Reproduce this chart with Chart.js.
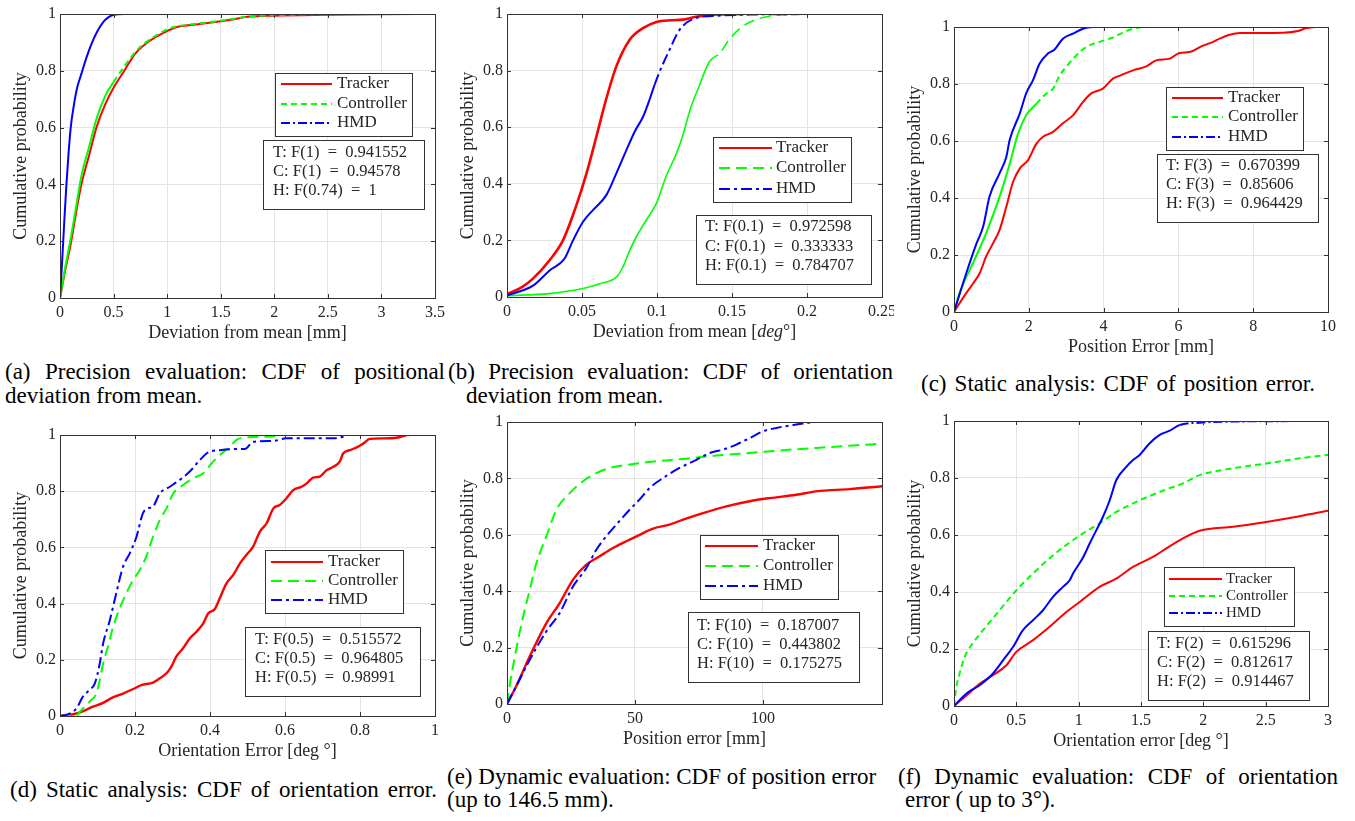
<!DOCTYPE html>
<html>
<head>
<meta charset="utf-8">
<script src="https://cdn.jsdelivr.net/npm/chart.js@4.4.1/dist/chart.umd.min.js"></script>
<style>
  body { margin: 0; background: #fff; width: 1355px; height: 821px; position: relative; overflow: hidden;
         font-family: "Liberation Serif", "Times New Roman", serif; }
  canvas { position: absolute; }
  .cap { position: absolute; font-size: 23px; line-height: 24px; white-space: nowrap; color: #000; }
  .just { white-space: normal; text-align: justify; text-align-last: justify; }
  .warm { position: absolute; left: -9999px; top: 0; font-size: 16px; }
</style>
</head>
<body>
<span class="warm">Tracker 0.5 <i>deg</i></span>

<div class="cap just" style="left:5px;top:360px;width:440px">(a) Precision evaluation: CDF of positional</div>
<div class="cap" style="left:5px;top:384px">deviation from mean.</div>
<div class="cap just" style="left:448px;top:360px;width:445px">(b) Precision evaluation: CDF of orientation</div>
<div class="cap" style="left:466px;top:384px">deviation from mean.</div>
<div class="cap just" style="left:921px;top:372px;width:394px">(c) Static analysis: CDF of position error.</div>
<div class="cap just" style="left:10px;top:778px;width:427px">(d) Static analysis: CDF of orientation error.</div>
<div class="cap" style="left:447px;top:765px">(e) Dynamic evaluation: CDF of position error</div>
<div class="cap" style="left:447px;top:788px">(up to 146.5 mm).</div>
<div class="cap just" style="left:898px;top:765px;width:440px">(f) Dynamic evaluation: CDF of orientation</div>
<div class="cap" style="left:905px;top:788px">error ( up to 3°).</div>

<script>
const seriesNames = ["Tracker", "Controller", "HMD"];
const yTicks = [0, 0.2, 0.4, 0.6, 0.8, 1];

// (a) positional deviation from mean [mm]
const aXTicks = [0, 0.5, 1, 1.5, 2, 2.5, 3, 3.5];
const aTrkX = [0, 0.05, 0.1, 0.15, 0.2, 0.27, 0.34, 0.42, 0.5, 0.6, 0.7, 0.8, 0.9, 1.0, 1.1, 1.25, 1.45, 1.6, 1.75, 2.0, 2.5, 3.0, 3.45];
const aTrkY = [0, 0.1, 0.19, 0.3, 0.4, 0.5, 0.6, 0.68, 0.74, 0.8, 0.86, 0.895, 0.92, 0.94, 0.955, 0.962, 0.972, 0.98, 0.99, 0.994, 0.997, 0.999, 1];
const aCtlX = [0, 0.05, 0.1, 0.15, 0.2, 0.27, 0.34, 0.42, 0.5, 0.6, 0.7, 0.8, 0.9, 1.0, 1.1, 1.25, 1.45, 1.6, 1.75, 2.0, 2.5];
const aCtlY = [0, 0.11, 0.21, 0.32, 0.43, 0.53, 0.63, 0.71, 0.76, 0.815, 0.865, 0.9, 0.925, 0.946, 0.957, 0.965, 0.974, 0.982, 0.99, 0.996, 1];
const aHmdX = [0, 0.02, 0.04, 0.06, 0.08, 0.1, 0.13, 0.16, 0.2, 0.25, 0.3, 0.35, 0.4, 0.45, 0.5, 0.6, 0.74];
const aHmdY = [0, 0.13, 0.27, 0.4, 0.51, 0.6, 0.68, 0.74, 0.79, 0.85, 0.9, 0.94, 0.97, 0.988, 0.997, 1, 1];
const aStats = ["T: F(1) = 0.941552", "C: F(1) = 0.94578", "H: F(0.74) = 1"];

// (b) orientation deviation from mean [deg]
const bXTicks = [0, 0.05, 0.1, 0.15, 0.2, 0.25];
const bTrkX = [0, 0.01, 0.0173, 0.0284, 0.0373, 0.046, 0.053, 0.0596, 0.066, 0.0729, 0.0818, 0.0907, 0.0996, 0.11, 0.117, 0.126, 0.14, 0.158];
const bTrkY = [0.01, 0.035, 0.065, 0.13, 0.2, 0.32, 0.437, 0.567, 0.697, 0.815, 0.909, 0.95, 0.972, 0.978, 0.98, 0.99, 0.998, 1];
const bCtlX = [0, 0.028, 0.0507, 0.0618, 0.0729, 0.0773, 0.0818, 0.0862, 0.0929, 0.0996, 0.106, 0.113, 0.117, 0.122, 0.128, 0.135, 0.142, 0.148, 0.157, 0.166, 0.175, 0.184, 0.204];
const bCtlY = [0.005, 0.012, 0.03, 0.047, 0.07, 0.106, 0.165, 0.212, 0.272, 0.331, 0.425, 0.508, 0.567, 0.661, 0.744, 0.832, 0.862, 0.909, 0.956, 0.98, 0.992, 0.997, 1];
const bHmdX = [0, 0.0173, 0.0284, 0.0384, 0.044, 0.0507, 0.0573, 0.0662, 0.0729, 0.0796, 0.0851, 0.0907, 0.095, 0.0984, 0.1018, 0.1084, 0.115, 0.126, 0.14, 0.162, 0.204];
const bHmdY = [0.005, 0.04, 0.094, 0.136, 0.2, 0.266, 0.307, 0.36, 0.437, 0.519, 0.584, 0.637, 0.697, 0.75, 0.797, 0.874, 0.944, 0.986, 0.994, 0.998, 1];
const bStats = ["T: F(0.1) = 0.972598", "C: F(0.1) = 0.333333", "H: F(0.1) = 0.784707"];

// (c) static position error [mm]
const cXTicks = [0, 2, 4, 6, 8, 10];
const cTrkX = [0, 0.33, 0.51, 0.69, 0.86, 1.04, 1.22, 1.4, 1.58, 1.76, 1.98, 2.2, 2.38, 2.65, 2.91, 3.18, 3.45, 3.67, 3.98, 4.25, 4.47, 4.79, 5.14, 5.41, 5.77, 6.03, 6.3, 6.61, 6.93, 7.1, 7.37, 7.64, 8.17, 8.8, 9.2, 9.42, 9.64];
const cTrkY = [0, 0.067, 0.1, 0.137, 0.195, 0.24, 0.288, 0.37, 0.457, 0.504, 0.533, 0.59, 0.615, 0.632, 0.662, 0.69, 0.737, 0.767, 0.784, 0.819, 0.831, 0.848, 0.862, 0.883, 0.889, 0.909, 0.912, 0.932, 0.948, 0.959, 0.973, 0.979, 0.979, 0.98, 0.986, 0.996, 1];
const cCtlX = [0, 0.15, 0.51, 0.86, 1.22, 1.49, 1.71, 1.93, 2.2, 2.47, 2.65, 2.83, 3.0, 3.27, 3.54, 3.9, 4.25, 4.61, 4.79, 5.03];
const cCtlY = [0, 0.067, 0.172, 0.277, 0.405, 0.52, 0.625, 0.69, 0.73, 0.767, 0.784, 0.831, 0.86, 0.9, 0.93, 0.948, 0.963, 0.986, 0.994, 1];
const cHmdX = [0, 0.33, 0.6, 0.78, 0.95, 1.22, 1.4, 1.49, 1.76, 1.93, 2.11, 2.29, 2.51, 2.69, 2.91, 3.18, 3.45, 3.63, 3.83];
const cHmdY = [0, 0.137, 0.24, 0.3, 0.405, 0.487, 0.545, 0.604, 0.697, 0.767, 0.813, 0.872, 0.907, 0.921, 0.959, 0.977, 0.994, 0.999, 1];
const cStats = ["T: F(3) = 0.670399", "C: F(3) = 0.85606", "H: F(3) = 0.964429"];

// (d) static orientation error [deg]
const dXTicks = [0, 0.2, 0.4, 0.6, 0.8, 1];
const dTrkX = [0, 0.044, 0.088, 0.115, 0.141, 0.168, 0.195, 0.217, 0.248, 0.266, 0.284, 0.297, 0.31, 0.328, 0.346, 0.364, 0.382, 0.395, 0.413, 0.426, 0.444, 0.462, 0.48, 0.497, 0.515, 0.533, 0.551, 0.569, 0.586, 0.604, 0.622, 0.644, 0.658, 0.675, 0.693, 0.711, 0.729, 0.746, 0.755, 0.773, 0.791, 0.809, 0.826, 0.862, 0.897, 0.924];
const dTrkY = [0, 0.009, 0.033, 0.047, 0.066, 0.08, 0.096, 0.11, 0.119, 0.134, 0.152, 0.176, 0.211, 0.241, 0.276, 0.3, 0.33, 0.365, 0.381, 0.419, 0.472, 0.502, 0.543, 0.573, 0.603, 0.656, 0.686, 0.739, 0.751, 0.775, 0.804, 0.816, 0.828, 0.848, 0.852, 0.875, 0.887, 0.905, 0.934, 0.946, 0.956, 0.97, 0.986, 0.988, 0.99, 1];
const dCtlX = [0, 0.04, 0.061, 0.079, 0.097, 0.106, 0.115, 0.128, 0.141, 0.159, 0.177, 0.195, 0.213, 0.23, 0.248, 0.266, 0.284, 0.302, 0.328, 0.355, 0.382, 0.408, 0.426, 0.453, 0.47, 0.497, 0.551, 0.6];
const dCtlY = [0, 0, 0.027, 0.051, 0.081, 0.128, 0.187, 0.247, 0.314, 0.383, 0.437, 0.484, 0.52, 0.567, 0.638, 0.697, 0.739, 0.792, 0.822, 0.846, 0.864, 0.905, 0.929, 0.958, 0.982, 0.992, 0.994, 1];
const dHmdX = [0, 0.017, 0.044, 0.061, 0.079, 0.093, 0.106, 0.115, 0.133, 0.15, 0.168, 0.186, 0.204, 0.221, 0.235, 0.248, 0.266, 0.293, 0.319, 0.346, 0.373, 0.395, 0.426, 0.462, 0.493, 0.515, 0.569, 0.604, 0.729, 0.755, 0.768];
const dHmdY = [0, 0.004, 0.027, 0.069, 0.093, 0.116, 0.187, 0.258, 0.342, 0.437, 0.531, 0.579, 0.638, 0.721, 0.739, 0.745, 0.792, 0.816, 0.84, 0.87, 0.911, 0.938, 0.946, 0.95, 0.95, 0.976, 0.979, 0.988, 0.988, 0.994, 1];
const dStats = ["T: F(0.5) = 0.515572", "C: F(0.5) = 0.964805", "H: F(0.5) = 0.98991"];

// (e) dynamic position error [mm]
const eXTicks = [0, 50, 100];
const eTrkX = [0, 3.6, 8.9, 15.4, 20.6, 25.8, 31, 36.2, 41.4, 46.6, 51.8, 57, 63.5, 68.8, 76.6, 85.7, 94.8, 102.6, 113, 120.8, 133.9, 146.5];
const eTrkY = [0, 0.063, 0.169, 0.287, 0.358, 0.441, 0.494, 0.524, 0.553, 0.577, 0.6, 0.622, 0.636, 0.654, 0.677, 0.701, 0.719, 0.73, 0.742, 0.754, 0.762, 0.772];
const eCtlX = [0, 1, 3.6, 6.3, 8.9, 11.5, 15.4, 19.3, 24.5, 29.7, 34.9, 40.1, 47.9, 58.3, 68.8, 81.8, 94.8, 107.8, 120.8, 133.9, 146.5];
const eCtlY = [0, 0.063, 0.193, 0.31, 0.405, 0.5, 0.595, 0.689, 0.748, 0.79, 0.819, 0.837, 0.849, 0.861, 0.869, 0.881, 0.89, 0.9, 0.908, 0.916, 0.923];
const eHmdX = [0, 3.6, 8.9, 15.4, 20.6, 25.8, 31, 34.9, 38.8, 42.7, 47.9, 51.8, 55.7, 60.9, 67.4, 74, 79.2, 84.4, 89.6, 94.8, 100, 105.2, 113, 120.2];
const eHmdY = [0, 0.063, 0.157, 0.258, 0.323, 0.417, 0.482, 0.547, 0.595, 0.636, 0.689, 0.725, 0.766, 0.801, 0.837, 0.866, 0.89, 0.902, 0.92, 0.943, 0.967, 0.979, 0.991, 1];
const eStats = ["T: F(10) = 0.187007", "C: F(10) = 0.443802", "H: F(10) = 0.175275"];

// (f) dynamic orientation error [deg]
const fXTicks = [0, 0.5, 1, 1.5, 2, 2.5, 3];
const fTrkX = [0, 0.1, 0.206, 0.313, 0.42, 0.5, 0.634, 0.767, 0.901, 1.008, 1.168, 1.302, 1.436, 1.596, 1.703, 1.837, 1.971, 2.238, 2.505, 2.773, 3];
const fTrkY = [0, 0.037, 0.078, 0.108, 0.143, 0.19, 0.231, 0.278, 0.33, 0.365, 0.418, 0.447, 0.488, 0.523, 0.553, 0.588, 0.615, 0.629, 0.646, 0.666, 0.685];
const fCtlX = [0, 0.019, 0.045, 0.086, 0.139, 0.233, 0.366, 0.5, 0.634, 0.767, 0.901, 1.035, 1.168, 1.302, 1.436, 1.57, 1.703, 1.837, 1.971, 2.238, 2.505, 2.773, 3];
const fCtlY = [0, 0.067, 0.114, 0.172, 0.213, 0.266, 0.336, 0.406, 0.465, 0.518, 0.565, 0.606, 0.641, 0.681, 0.711, 0.737, 0.76, 0.781, 0.81, 0.834, 0.851, 0.869, 0.881];
const fHmdX = [0, 0.1, 0.206, 0.313, 0.393, 0.473, 0.553, 0.634, 0.714, 0.794, 0.874, 0.928, 0.955, 1.035, 1.088, 1.142, 1.195, 1.249, 1.302, 1.382, 1.436, 1.489, 1.57, 1.65, 1.73, 1.81, 1.971, 2.238, 3];
const fHmdY = [0, 0.044, 0.073, 0.114, 0.16, 0.207, 0.266, 0.301, 0.336, 0.383, 0.418, 0.441, 0.465, 0.521, 0.57, 0.617, 0.664, 0.722, 0.793, 0.839, 0.863, 0.881, 0.922, 0.951, 0.966, 0.986, 0.994, 0.998, 1];
const fStats = ["T: F(2) = 0.615296", "C: F(2) = 0.812617", "H: F(2) = 0.914467"];

const FAMILY = "Liberation Serif";
const FONT = "'Liberation Serif', 'Times New Roman', serif";
const TXT = "#262626";
const GRID = "#e4e4e4";
const COLORS = ["#ff0000", "#00ff00", "#0000ff"];
const SHORT = { ctl: [6, 4], hmd: [9, 3, 2, 3] };
const LONG = { ctl: [11, 6], hmd: [11, 4, 3, 4] };

function eqText(s) {
  return s.replace(" = ", "\u2002=\u2002");
}

function makeChart(c) {
  const left = c.L - 60, top = c.T - 14;
  const w = c.R - c.L + 72, h = c.B - c.T + 64;
  const cv = document.createElement("canvas");
  cv.width = w; cv.height = h;
  cv.style.left = left + "px"; cv.style.top = top + "px";
  cv.style.width = w + "px"; cv.style.height = h + "px";
  document.body.appendChild(cv);

  const datasets = c.series.map((s, i) => ({
    label: seriesNames[i],
    data: s.x.map((x, k) => ({ x: x, y: s.y[k] })),
    borderColor: COLORS[i],
    borderWidth: s.width || 2,
    borderDash: s.dash || [],
    pointRadius: 0,
    fill: false,
    order: 3 - i,
    cubicInterpolationMode: "monotone",
    segment: {
      borderDash: ctx => (s.solid && ctx.p0.parsed.x < s.solid) ? [] : undefined
    }
  }));

  const overlay = {
    id: "matlabAxes",
    afterDraw(chart) {
      const g = chart.ctx, a = chart.chartArea;
      const sx = chart.scales.x, sy = chart.scales.y;
      const X = v => v - left, Y = v => v - top;
      g.save();

      // box and inward ticks
      g.strokeStyle = "#333"; g.lineWidth = 1; g.setLineDash([]);
      g.beginPath();
      c.xTicks.forEach(v => {
        const p = Math.round(sx.getPixelForValue(v)) + 0.5;
        g.moveTo(p, a.bottom); g.lineTo(p, a.bottom - 4);
        g.moveTo(p, a.top); g.lineTo(p, a.top + 4);
      });
      yTicks.forEach(v => {
        const p = Math.round(sy.getPixelForValue(v)) + 0.5;
        g.moveTo(a.left, p); g.lineTo(a.left + 4, p);
        g.moveTo(a.right, p); g.lineTo(a.right - 4, p);
      });
      g.stroke();
      g.strokeRect(Math.round(a.left) + 0.5, Math.round(a.top) + 0.5,
                   Math.round(a.right - a.left), Math.round(a.bottom - a.top));

      // axis titles
      g.fillStyle = TXT;
      g.textBaseline = "middle";
      g.textAlign = "left";
      const fontFor = p => (p[1] ? "italic " : "") + "18px " + FONT;
      let total = 0;
      c.xTitle.forEach(p => { g.font = fontFor(p); total += g.measureText(p[0]).width; });
      let tx = X((c.L + c.R) / 2) - total / 2;
      c.xTitle.forEach(p => {
        g.font = fontFor(p);
        g.fillText(p[0], tx, Y(c.B + 35));
        tx += g.measureText(p[0]).width;
      });
      g.save();
      g.translate(X(c.L - 39), Y((c.T + c.B) / 2));
      g.rotate(-Math.PI / 2);
      g.textAlign = "center";
      g.font = "18px " + FONT;
      g.fillText("Cumulative probability", 0, 0);
      g.restore();

      // legend box
      const lg = c.legend;
      g.fillStyle = "#fff";
      g.fillRect(X(lg.box[0]), Y(lg.box[1]), lg.box[2] - lg.box[0], lg.box[3] - lg.box[1]);
      g.strokeStyle = "#333"; g.lineWidth = 1;
      g.strokeRect(X(lg.box[0]) + 0.5, Y(lg.box[1]) + 0.5, lg.box[2] - lg.box[0], lg.box[3] - lg.box[1]);
      g.font = lg.size + "px " + FONT;
      g.textAlign = "left";
      seriesNames.forEach((name, i) => {
        const yy = Y(lg.rows[i]);
        g.strokeStyle = COLORS[i];
        g.lineWidth = 2;
        g.setLineDash(c.series[i].dash || []);
        g.beginPath();
        g.moveTo(X(lg.sample[0]), yy); g.lineTo(X(lg.sample[1]), yy);
        g.stroke();
        g.setLineDash([]);
        g.fillStyle = TXT;
        g.fillText(name, X(lg.text), yy);
      });

      // statistics box
      const st = c.stats;
      g.fillStyle = "#fff";
      g.fillRect(X(st.box[0]), Y(st.box[1]), st.box[2] - st.box[0], st.box[3] - st.box[1]);
      g.strokeStyle = "#333"; g.lineWidth = 1;
      g.strokeRect(X(st.box[0]) + 0.5, Y(st.box[1]) + 0.5, st.box[2] - st.box[0], st.box[3] - st.box[1]);
      g.fillStyle = TXT;
      g.font = "16.5px " + FONT;
      st.lines.forEach((s, i) => g.fillText(eqText(s), X(st.text), Y(st.rows[i])));

      g.restore();
    }
  };

  return new Chart(cv, {
    type: "line",
    data: { datasets: datasets },
    plugins: [overlay],
    options: {
      responsive: false,
      animation: false,
      layout: { padding: { left: 0, top: 14, right: 12, bottom: 5 } },
      plugins: { legend: { display: false }, tooltip: { enabled: false } },
      scales: {
        x: {
          type: "linear", min: 0, max: c.xMax,
          grid: { color: GRID, drawTicks: false },
          border: { display: false },
          ticks: {
            font: { family: FONT, size: 16 }, color: TXT, padding: 5,
            autoSkip: false, maxRotation: 0, callback: v => String(v)
          },
          afterBuildTicks: ax => { ax.ticks = c.xTicks.map(v => ({ value: v })); },
          afterFit: ax => { ax.height = 45; ax.paddingLeft = 0; ax.paddingRight = 0; }
        },
        y: {
          type: "linear", min: 0, max: 1,
          grid: { color: GRID, drawTicks: false },
          border: { display: false },
          ticks: { font: { family: FONT, size: 16 }, color: TXT, padding: 4, callback: v => String(v) },
          afterBuildTicks: ax => { ax.ticks = yTicks.map(v => ({ value: v })); },
          afterFit: ax => { ax.width = 60; ax.paddingTop = 0; ax.paddingBottom = 0; }
        }
      }
    }
  });
}

function buildAll() {
  makeChart({
    L: 60, T: 14, R: 435, B: 298, xMax: 3.5, xTicks: aXTicks,
    xTitle: [["Deviation from mean [mm]", false]],
    series: [
      { x: aTrkX, y: aTrkY },
      { x: aCtlX, y: aCtlY, dash: SHORT.ctl, solid: 0.45 },
      { x: aHmdX, y: aHmdY, dash: SHORT.hmd, solid: 1 }
    ],
    legend: { box: [275, 73, 412, 136], rows: [84, 104, 123], sample: [281, 332], text: 337, size: 17 },
    stats: { box: [263, 140, 424, 209], rows: [153, 172, 191], text: 273, lines: aStats }
  });

  makeChart({
    L: 507, T: 14, R: 882, B: 297, xMax: 0.25, xTicks: bXTicks,
    xTitle: [["Deviation from mean [", false], ["deg", true], ["°]", false]],
    series: [
      { x: bTrkX, y: bTrkY, width: 2.6 },
      { x: bCtlX, y: bCtlY, dash: LONG.ctl, solid: 0.13, width: 1.6 },
      { x: bHmdX, y: bHmdY, dash: LONG.hmd, solid: 0.097 }
    ],
    legend: { box: [713, 137, 851, 202], rows: [148, 168, 189], sample: [719, 772], text: 776, size: 17 },
    stats: { box: [696, 215, 871, 284], rows: [227, 247, 266], text: 705, lines: bStats }
  });

  makeChart({
    L: 954, T: 27, R: 1328, B: 312, xMax: 10, xTicks: cXTicks,
    xTitle: [["Position Error [mm]", false]],
    series: [
      { x: cTrkX, y: cTrkY },
      { x: cCtlX, y: cCtlY, dash: SHORT.ctl, solid: 2.1 },
      { x: cHmdX, y: cHmdY, dash: SHORT.hmd, solid: 4 }
    ],
    legend: { box: [1166, 87, 1303, 150], rows: [98, 117, 137], sample: [1172, 1223], text: 1228, size: 17 },
    stats: { box: [1157, 154, 1318, 222], rows: [166, 185, 204], text: 1166, lines: cStats }
  });

  makeChart({
    L: 60, T: 435, R: 435, B: 716, xMax: 1, xTicks: dXTicks,
    xTitle: [["Orientation Error [deg °]", false]],
    series: [
      { x: dTrkX, y: dTrkY, width: 2.4 },
      { x: dCtlX, y: dCtlY, dash: LONG.ctl },
      { x: dHmdX, y: dHmdY, dash: LONG.hmd }
    ],
    legend: { box: [265, 550, 403, 613], rows: [562, 581, 600], sample: [271, 323], text: 328, size: 17 },
    stats: { box: [245, 627, 420, 696], rows: [640, 659, 678], text: 255, lines: dStats }
  });

  makeChart({
    L: 507, T: 422, R: 882, B: 704, xMax: 146.5, xTicks: eXTicks,
    xTitle: [["Position error [mm]", false]],
    series: [
      { x: eTrkX, y: eTrkY, width: 2.4 },
      { x: eCtlX, y: eCtlY, dash: LONG.ctl },
      { x: eHmdX, y: eHmdY, dash: LONG.hmd }
    ],
    legend: { box: [700, 535, 838, 599], rows: [546, 566, 586], sample: [705, 758], text: 763, size: 17 },
    stats: { box: [688, 612, 859, 682], rows: [626, 645, 664], text: 697, lines: eStats }
  });

  makeChart({
    L: 954, T: 421, R: 1328, B: 706, xMax: 3, xTicks: fXTicks,
    xTitle: [["Orientation error [deg °]", false]],
    series: [
      { x: fTrkX, y: fTrkY },
      { x: fCtlX, y: fCtlY, dash: SHORT.ctl },
      { x: fHmdX, y: fHmdY, dash: SHORT.hmd, solid: 1.8 }
    ],
    legend: { box: [1164, 567, 1294, 626], rows: [579, 596, 613], sample: [1169, 1222], text: 1226, size: 15 },
    stats: { box: [1148, 631, 1309, 700], rows: [644, 663, 682], text: 1157, lines: fStats }
  });
}

Promise.all([
  document.fonts.load("16px '" + FAMILY + "'"),
  document.fonts.load("italic 16px '" + FAMILY + "'")
]).catch(() => null).then(buildAll);
</script>
</body>
</html>
